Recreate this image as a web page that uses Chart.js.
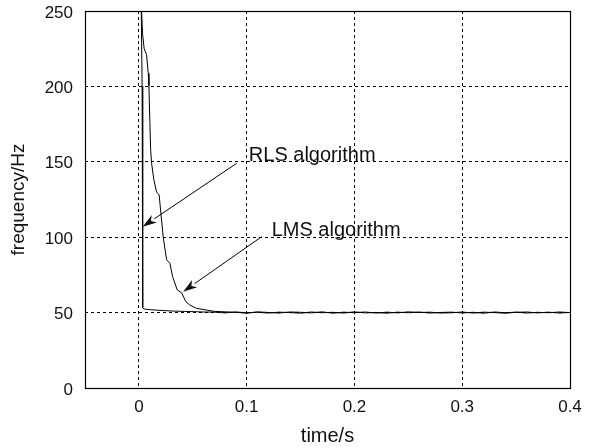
<!DOCTYPE html>
<html>
<head>
<meta charset="utf-8">
<script src="https://cdn.jsdelivr.net/npm/chart.js@4"></script>
<style>
  html, body { margin: 0; padding: 0; background: #fff; }
</style>
</head>
<body>
<canvas id="chart" width="589" height="448"></canvas>
<script>
// ---- data ----
const rlsTime = [0.0022, 0.0030, 0.0034, 0.0037, 0.0045, 0.0070, 0.0110, 0.0170, 0.0240, 0.0320, 0.0420, 0.0520, 0.0600];
const rlsFreq = [250, 200, 130, 53.5, 52.4, 52.2, 51.9, 51.6, 51.3, 51.0, 50.8, 50.6, 50.4];

const lmsTime = [0.0025, 0.0034, 0.0049, 0.0071, 0.0087, 0.0093, 0.0102, 0.0109, 0.0118, 0.0139, 0.0164, 0.0188,
                 0.0204, 0.0226, 0.0257, 0.0288, 0.0313, 0.0356, 0.0396, 0.0436, 0.0473, 0.0535, 0.0628];
const lmsFreq = [250, 235, 225, 221, 208.6, 200.5, 176, 158, 149, 138, 130, 128,
                 116, 100, 85, 82.7, 73.8, 65, 63.2, 57.2, 55, 52.8, 51.7];

// steady-state part, both estimators jitter around 50 Hz
const tailTime = [0.07, 0.08, 0.09, 0.10, 0.11, 0.12, 0.13, 0.14, 0.15, 0.16, 0.17, 0.18, 0.19, 0.20, 0.21, 0.22, 0.23,
                  0.24, 0.25, 0.26, 0.27, 0.28, 0.29, 0.30, 0.31, 0.32, 0.33, 0.34, 0.35, 0.36, 0.37, 0.38, 0.39, 0.40];
const rlsTail = [50.3, 49.8, 50.4, 49.9, 50.2, 49.7, 50.3, 50.0, 49.6, 50.4, 49.9, 50.2, 49.7, 50.5, 49.8, 50.1, 49.6,
                 50.3, 49.9, 50.4, 49.7, 50.1, 50.3, 49.8, 50.2, 49.6, 50.4, 49.9, 50.3, 49.7, 50.2, 49.9, 50.4, 50.0];
const lmsTail = [50.8, 50.5, 50.2, 49.6, 50.5, 50.1, 49.7, 50.4, 50.2, 49.8, 50.5, 49.6, 50.3, 49.9, 50.4, 49.7, 50.3,
                 49.8, 50.5, 50.0, 50.3, 49.7, 49.9, 50.4, 49.7, 50.3, 50.0, 49.6, 50.2, 50.4, 49.8, 50.3, 49.7, 50.1];

const xTicks = [0, 0.1, 0.2, 0.3, 0.4];
const yTicks = [0, 50, 100, 150, 200, 250];

// annotations: label text, text anchor, arrow tail, arrow tip (data coords)
const noteText = ['RLS algorithm', 'LMS algorithm'];
const noteAt = [[0.102, 150.3], [0.1232, 100.8]];
const arrowFrom = [[0.0907, 149], [0.1139, 100.3]];
const arrowTo = [[0.0035, 107], [0.0411, 63.9]];

const FONT = '"Liberation Sans", Arial, Helvetica, sans-serif';

function toPoints(ts, vs, tailT, tailV) {
  const pts = ts.map((t, i) => ({ x: t, y: vs[i] }));
  tailT.forEach((t, i) => pts.push({ x: t, y: tailV[i] }));
  return pts;
}

// box around the plot + the arrows with their labels
const framePlugin = {
  id: 'frame',
  afterDraw(chart) {
    const { ctx, chartArea: a, scales } = chart;
    const sx = scales.x, sy = scales.y;
    ctx.save();
    ctx.strokeStyle = '#000';
    ctx.lineWidth = 1.2;
    ctx.strokeRect(Math.round(a.left) + 0.5, Math.round(a.top) + 0.5,
      Math.round(a.right - a.left), Math.round(a.bottom - a.top));

    ctx.fillStyle = '#111';
    ctx.font = '20px ' + FONT;
    ctx.textBaseline = 'alphabetic';
    ctx.textAlign = 'left';
    noteText.forEach((txt, i) => {
      ctx.fillText(txt, sx.getPixelForValue(noteAt[i][0]), sy.getPixelForValue(noteAt[i][1]));

      const x0 = sx.getPixelForValue(arrowFrom[i][0]), y0 = sy.getPixelForValue(arrowFrom[i][1]);
      const x1 = sx.getPixelForValue(arrowTo[i][0]), y1 = sy.getPixelForValue(arrowTo[i][1]);
      const ang = Math.atan2(y1 - y0, x1 - x0);
      const len = 14, half = 4.5;
      const bx = x1 - len * Math.cos(ang), by = y1 - len * Math.sin(ang);
      ctx.lineWidth = 1;
      ctx.beginPath();
      ctx.moveTo(x0, y0);
      ctx.lineTo(bx, by);
      ctx.stroke();
      ctx.beginPath();
      ctx.moveTo(x1, y1);
      ctx.lineTo(bx + half * Math.sin(ang), by - half * Math.cos(ang));
      ctx.lineTo(x1 - (len - 4) * Math.cos(ang), y1 - (len - 4) * Math.sin(ang));
      ctx.lineTo(bx - half * Math.sin(ang), by + half * Math.cos(ang));
      ctx.closePath();
      ctx.fill();
    });
    ctx.restore();
  }
};

const lineStyle = {
  borderColor: '#000',
  borderWidth: 1,
  pointRadius: 0,
  tension: 0,
  fill: false
};

new Chart(document.getElementById('chart'), {
  type: 'line',
  data: {
    datasets: [
      Object.assign({ label: 'RLS', data: toPoints(rlsTime, rlsFreq, tailTime, rlsTail) }, lineStyle),
      Object.assign({ label: 'LMS', data: toPoints(lmsTime, lmsFreq, tailTime, lmsTail) }, lineStyle)
    ]
  },
  options: {
    responsive: false,
    animation: false,
    events: [],
    layout: { padding: 0 },
    plugins: { legend: { display: false }, tooltip: { enabled: false } },
    scales: {
      x: {
        type: 'linear',
        min: -0.05,
        max: 0.4,
        afterBuildTicks: (s) => { s.ticks = xTicks.map(v => ({ value: v })); },
        afterFit: (s) => { s.height = 60; s.paddingLeft = 0; s.paddingRight = 19; },
        grid: { color: '#000', lineWidth: 1, drawTicks: false },
        border: { display: false, dash: [3, 3] },
        ticks: {
          color: '#111',
          padding: 9,
          maxRotation: 0,
          font: { family: FONT, size: 17 },
          callback: (v) => String(v)
        },
        title: {
          display: true,
          text: 'time/s',
          color: '#111',
          padding: 0,
          font: { family: FONT, size: 20 }
        }
      },
      y: {
        type: 'linear',
        min: 0,
        max: 250,
        afterBuildTicks: (s) => { s.ticks = yTicks.map(v => ({ value: v })); },
        afterFit: (s) => { s.width = 85; s.paddingTop = 11; s.paddingBottom = 0; },
        grid: { color: '#000', lineWidth: 1, drawTicks: false },
        border: { display: false, dash: [3, 3] },
        ticks: {
          color: '#111',
          padding: 12,
          labelOffset: 2,
          font: { family: FONT, size: 17 }
        },
        title: {
          display: true,
          text: 'frequency/Hz',
          color: '#111',
          padding: { top: 7, bottom: 0 },
          font: { family: FONT, size: 19 }
        }
      }
    }
  },
  plugins: [framePlugin]
});
</script>
</body>
</html>
